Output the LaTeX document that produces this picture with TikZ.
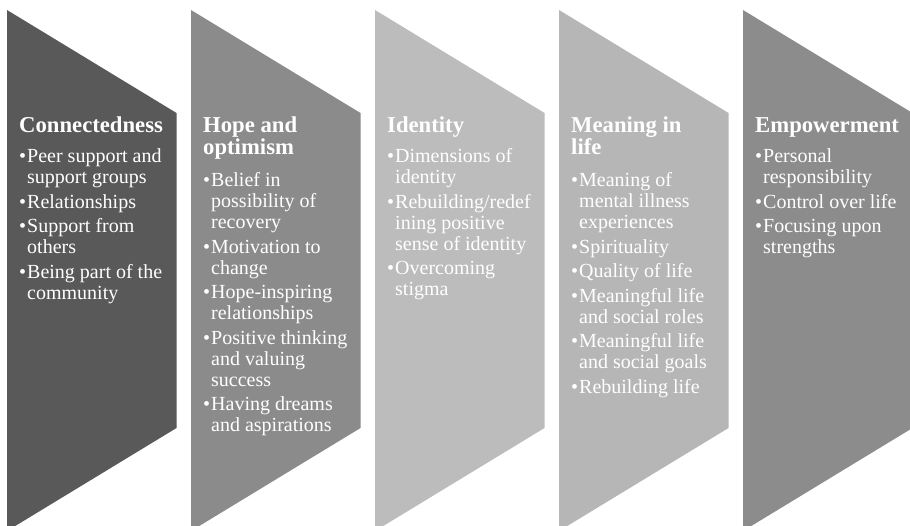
\documentclass[tikz,border=0pt]{standalone}
\usepackage{fontspec}
\setmainfont{Liberation Serif}
\newcommand{\bul}{\makebox[8pt][l]{\textbullet}}
\newcommand{\ind}{\hspace*{8pt}}
\newcommand{\gap}{\\[3.6pt]}
\definecolor{cA}{HTML}{595959}
\definecolor{cB}{HTML}{8B8B8B}
\definecolor{cC}{HTML}{BCBCBC}
\definecolor{cD}{HTML}{B6B6B6}
\definecolor{cE}{HTML}{8C8C8C}
\tikzset{
  headtxt/.style={anchor=base west, inner sep=0pt, text=white, font=\fontsize{22.7}{21.6}\selectfont\bfseries},
  bodytxt/.style={anchor=base west, inner sep=0pt, text=white, font=\fontsize{20}{21}\selectfont},
}
\begin{document}
\begin{tikzpicture}[x=1pt,y=-1pt]
\useasboundingbox (0,0) rectangle (910,525);
\clip (0,0) rectangle (910,525);
\fill[white] (0,0) rectangle (910,525);
% chevron shapes
\foreach \i/\c in {0/cA,1/cB,2/cC,3/cD,4/cE}{
  \pgfmathsetmacro{\xa}{7+184*\i}
  \pgfmathsetmacro{\xb}{\xa+169.5}
  \fill[\c] (\xa,10) -- (\xb,113) -- (\xb,428) -- (\xa,531) -- cycle;
}
% column 1
\node[headtxt] (h1) at (19,132) {\begin{tabular}[t]{@{}l@{}}Connectedness\end{tabular}};
\node[bodytxt] (b1) at (19,162.5) {\begin{tabular}[t]{@{}l@{}}
\bul Peer support and\\ \ind support groups\gap
\bul Relationships\gap
\bul Support from\\ \ind others\gap
\bul Being part of the\\ \ind community
\end{tabular}};
% column 2
\node[headtxt] (h2) at (203,132) {\begin{tabular}[t]{@{}l@{}}Hope and\\optimism\end{tabular}};
\node[bodytxt] (b2) at (203,186.5) {\begin{tabular}[t]{@{}l@{}}
\bul Belief in\\ \ind possibility of\\ \ind recovery\gap
\bul Motivation to\\ \ind change\gap
\bul Hope-inspiring\\ \ind relationships\gap
\bul Positive thinking\\ \ind and valuing\\ \ind success\gap
\bul Having dreams\\ \ind and aspirations
\end{tabular}};
% column 3
\node[headtxt] (h3) at (387,132) {\begin{tabular}[t]{@{}l@{}}Identity\end{tabular}};
\node[bodytxt] (b3) at (387,162.5) {\begin{tabular}[t]{@{}l@{}}
\bul Dimensions of\\ \ind identity\gap
\bul Rebuilding/redef\\ \ind ining positive\\ \ind sense of identity\gap
\bul Overcoming\\ \ind stigma
\end{tabular}};
% column 4
\node[headtxt] (h4) at (571,132) {\begin{tabular}[t]{@{}l@{}}Meaning in\\life\end{tabular}};
\node[bodytxt] (b4) at (571,186.5) {\begin{tabular}[t]{@{}l@{}}
\bul Meaning of\\ \ind mental illness\\ \ind experiences\gap
\bul Spirituality\gap
\bul Quality of life\gap
\bul Meaningful life\\ \ind and social roles\gap
\bul Meaningful life\\ \ind and social goals\gap
\bul Rebuilding life
\end{tabular}};
% column 5
\node[headtxt] (h5) at (755,132) {\begin{tabular}[t]{@{}l@{}}Empowerment\end{tabular}};
\node[bodytxt] (b5) at (755,162.5) {\begin{tabular}[t]{@{}l@{}}
\bul Personal\\ \ind responsibility\gap
\bul Control over life\gap
\bul Focusing upon\\ \ind strengths
\end{tabular}};
\end{tikzpicture}
\end{document}
